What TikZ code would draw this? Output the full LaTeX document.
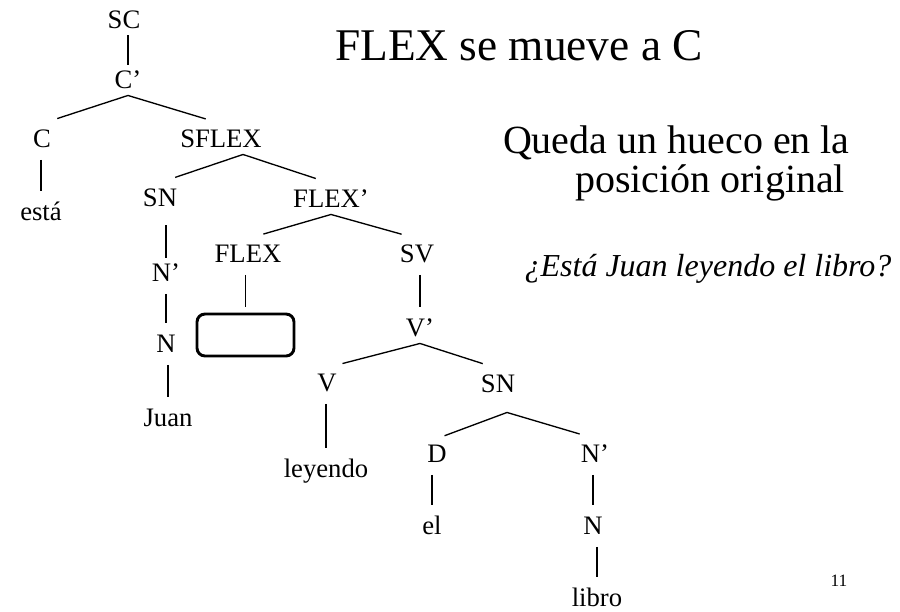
\documentclass[tikz,border=0pt]{standalone}
\usepackage{fontspec}
\setmainfont{LiberationSerif}[Extension=.ttf, UprightFont=*-Regular, ItalicFont=*-Italic, BoldFont=*-Bold, BoldItalicFont=*-BoldItalic]
\tikzset{
	cat/.style = {font=\fontsize{20}{24}\selectfont, inner xsep=0pt, inner ysep=4.5pt, text height=13.2pt, text depth=0pt},
	stem/.style = {shorten <=4pt, shorten >=4pt},
	branch/.style = {shorten >=12pt},
	hole/.style = {draw, line width=2.2pt, rounded corners=6pt, minimum width=72.75pt, minimum height=31.5pt, inner sep=0pt},
}
\begin{document}
\begin{tikzpicture}[x=0.75pt,y=-0.75pt,line width=1pt]
	\useasboundingbox (0,0) rectangle (900,611);
	% the tree
	\node (sc) at (124, 20)	[cat]	{SC};
	\node (cbar) at (128, 80)	[cat]	{C’};
	\node (c) at ( 42,139)	[cat]	{C};
	\node (sflex) at (221,139)	[cat]	{SFLEX};
	\node (esta) at ( 41,212)	[cat]	{está};
	\node (sn) at (160,198)	[cat]	{SN};
	\node (flexbar) at (331,199)	[cat]	{FLEX’};
	\node (nbar) at (166,273)	[cat]	{N’};
	\node (flex) at (248,254)	[cat]	{FLEX};
	\node (sv) at (417,254)	[cat]	{SV};
	\node (n) at (166,344)	[cat]	{N};
	\node (trace) at (245.5,335)	[hole]	{};
	\node (vbar) at (420,328)	[cat]	{V’};
	\node (juan) at (168,418)	[cat]	{Juan};
	\node (v) at (327,383)	[cat]	{V};
	\node (sntwo) at (498,384)	[cat]	{SN};
	\node (leyendo) at (326,469)	[cat]	{leyendo};
	\node (d) at (437,454)	[cat]	{D};
	\node (nbartwo) at (595,454)	[cat]	{N’};
	\node (el) at (432,526)	[cat]	{el};
	\node (ntwo) at (593,526)	[cat]	{N};
	\node (libro) at (597,598)	[cat]	{libro};

	\draw (cbar.north |- sc.south) -- (cbar.north);
	\draw[branch] (cbar.south) -- (c.north);
	\draw[branch] (cbar.south) -- (sflex.north);
	\draw[stem] (esta.north |- c.south) -- (esta.north);
	\draw[branch] ([xshift=16.5pt]sflex.south) -- (sn.north);
	\draw[branch] ([xshift=16.5pt]sflex.south) -- (flexbar.north);
	\draw[shorten <=9pt] (nbar.north |- sn.south) -- (nbar.north);
	\draw[stem] (n.north |- nbar.south) -- (n.north);
	\draw[stem] (juan.north |- n.south) -- (juan.north);
	\draw[stem] (trace.north |- flex.south) -- (trace.north);
	\draw[stem] (vbar.north |- sv.south) -- (vbar.north);
	\draw[branch] (flexbar.south) -- (flex.north);
	\draw[branch] (flexbar.south) -- (sv.north);
	\draw[branch] (vbar.south) -- (v.north);
	\draw[branch] (vbar.south) -- (sntwo.north);
	\draw[stem] (leyendo.north |- v.south) -- (leyendo.north);
	\draw[shorten >=6pt] ([xshift=6.75pt,yshift=-9.75pt]sntwo.south) -- (d.north);
	\draw[branch] ([xshift=6.75pt,yshift=-9.75pt]sntwo.south) -- (nbartwo.north);
	\draw[stem] (el.north |- d.south) -- (el.north);
	\draw[stem] (ntwo.north |- nbartwo.south) -- (ntwo.north);
	\draw[stem] (libro.north |- ntwo.south) -- (libro.north);

	% texts on the right
	\node (title) at (330, 60)	[anchor=base west, font=\fontsize{34}{40}\selectfont]	{FLEX se mueve a C};
	\node (hueco) at (498,153)	[anchor=base west, font=\fontsize{30}{36}\selectfont]	{Queda un hueco en la};
	\node (posicion) at (710,192)	[anchor=base, font=\fontsize{30}{36}\selectfont]	{posición original};
	\node (pregunta) at (708,276)	[anchor=base, font=\fontsize{24}{28}\selectfont\itshape]	{¿Está Juan leyendo el libro?};
	\node (pagina) at (839,586)	[anchor=base, font=\fontsize{13}{15}\selectfont]	{11};
\end{tikzpicture}
\end{document}
